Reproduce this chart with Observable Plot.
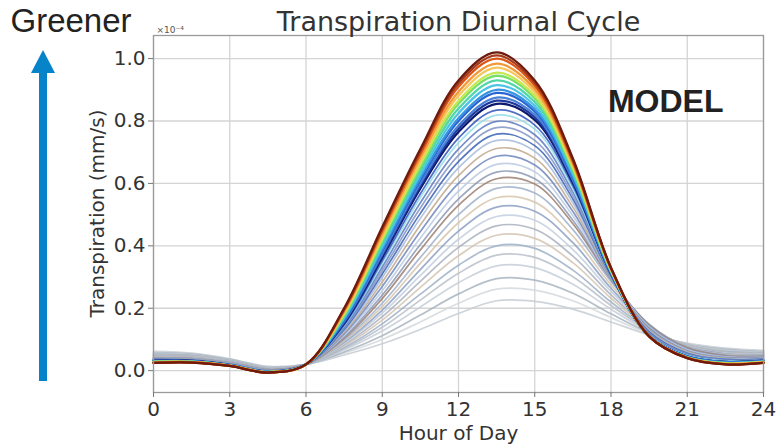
<!DOCTYPE html>
<html>
<head>
<meta charset="utf-8">
<script src="https://cdn.jsdelivr.net/npm/d3@7"></script>
<script src="https://cdn.jsdelivr.net/npm/@observablehq/plot@0.6"></script>
<style>
  html, body { margin: 0; padding: 0; background: #fff; }
  #chart { width: 776px; height: 446px; }
</style>
</head>
<body>
<div id="chart"></div>
<script>
// Sample hours of the composite day
const hours = [0, 1.5, 3, 4.5, 6, 7.5, 9, 10.5, 12, 13.5, 15, 16.5, 18, 19.5, 21, 22.5, 24];
const xTicks = [0, 3, 6, 9, 12, 15, 18, 21, 24];
const yTicks = [0, 0.2, 0.4, 0.6, 0.8, 1.0];

// Mean transpiration (x1e-4 mm/s) per site, greenest site first
const transpiration = [
  [0.025,0.026,0.015,-0.006,0.02,0.200,0.460,0.710,0.930,1.020,0.930,0.680,0.330,0.110,0.040,0.020,0.025],
  [0.025,0.026,0.015,-0.006,0.02,0.197,0.454,0.702,0.920,1.010,0.922,0.675,0.329,0.110,0.040,0.020,0.025],
  [0.026,0.027,0.015,-0.006,0.02,0.194,0.448,0.694,0.910,1.000,0.914,0.670,0.328,0.110,0.041,0.021,0.026],
  [0.026,0.027,0.016,-0.005,0.02,0.190,0.439,0.683,0.894,0.984,0.903,0.663,0.326,0.110,0.041,0.022,0.026],
  [0.027,0.027,0.016,-0.005,0.02,0.186,0.431,0.672,0.881,0.971,0.892,0.657,0.324,0.110,0.041,0.022,0.027],
  [0.028,0.028,0.016,-0.005,0.02,0.181,0.422,0.661,0.865,0.955,0.881,0.650,0.322,0.110,0.042,0.023,0.028],
  [0.028,0.028,0.016,-0.005,0.02,0.178,0.416,0.653,0.855,0.945,0.873,0.645,0.321,0.110,0.042,0.024,0.028],
  [0.029,0.029,0.017,-0.004,0.02,0.174,0.407,0.641,0.840,0.930,0.861,0.638,0.319,0.110,0.043,0.024,0.029],
  [0.029,0.029,0.017,-0.004,0.02,0.169,0.398,0.629,0.825,0.915,0.849,0.630,0.318,0.110,0.043,0.025,0.029],
  [0.030,0.030,0.017,-0.004,0.02,0.165,0.389,0.618,0.809,0.900,0.838,0.623,0.316,0.110,0.044,0.026,0.030],
  [0.030,0.030,0.017,-0.004,0.02,0.162,0.384,0.611,0.800,0.890,0.831,0.619,0.315,0.110,0.044,0.026,0.030],
  [0.031,0.030,0.018,-0.003,0.02,0.158,0.375,0.600,0.785,0.875,0.820,0.612,0.313,0.110,0.044,0.027,0.031],
  [0.031,0.031,0.018,-0.003,0.02,0.155,0.369,0.592,0.775,0.865,0.812,0.607,0.312,0.110,0.045,0.027,0.031],
  [0.032,0.031,0.018,-0.003,0.02,0.152,0.363,0.584,0.765,0.855,0.804,0.602,0.311,0.110,0.045,0.028,0.032],
  [0.033,0.032,0.018,-0.003,0.02,0.147,0.352,0.567,0.745,0.835,0.787,0.592,0.309,0.112,0.047,0.029,0.033],
  [0.033,0.032,0.019,-0.002,0.02,0.144,0.343,0.555,0.730,0.819,0.774,0.583,0.308,0.115,0.049,0.031,0.034],
  [0.034,0.033,0.020,-0.002,0.02,0.140,0.332,0.538,0.710,0.799,0.756,0.572,0.306,0.118,0.051,0.032,0.035],
  [0.035,0.034,0.020,-0.001,0.02,0.136,0.321,0.521,0.690,0.779,0.738,0.561,0.304,0.121,0.053,0.034,0.036],
  [0.036,0.034,0.021,0.000,0.02,0.132,0.310,0.504,0.670,0.758,0.721,0.550,0.303,0.124,0.056,0.036,0.037],
  [0.036,0.035,0.022,0.000,0.02,0.128,0.298,0.488,0.650,0.738,0.703,0.538,0.301,0.128,0.058,0.038,0.039],
  [0.037,0.036,0.022,0.001,0.02,0.123,0.284,0.467,0.625,0.712,0.681,0.524,0.299,0.132,0.061,0.040,0.040],
  [0.038,0.037,0.023,0.001,0.02,0.118,0.270,0.446,0.600,0.687,0.659,0.510,0.297,0.136,0.064,0.042,0.042],
  [0.039,0.038,0.024,0.002,0.02,0.113,0.256,0.425,0.575,0.661,0.637,0.496,0.295,0.140,0.067,0.044,0.043],
  [0.040,0.039,0.025,0.003,0.02,0.108,0.242,0.404,0.550,0.636,0.615,0.482,0.293,0.144,0.070,0.046,0.045],
  [0.041,0.039,0.025,0.003,0.02,0.104,0.231,0.387,0.530,0.615,0.598,0.471,0.292,0.147,0.073,0.048,0.046],
  [0.043,0.040,0.026,0.004,0.02,0.099,0.216,0.363,0.500,0.584,0.569,0.452,0.286,0.149,0.075,0.051,0.048],
  [0.044,0.042,0.027,0.005,0.02,0.095,0.205,0.344,0.474,0.554,0.540,0.431,0.275,0.146,0.076,0.052,0.049],
  [0.046,0.043,0.028,0.006,0.02,0.091,0.194,0.324,0.447,0.524,0.511,0.410,0.264,0.143,0.077,0.054,0.050],
  [0.047,0.044,0.029,0.007,0.02,0.087,0.184,0.305,0.421,0.494,0.482,0.388,0.254,0.141,0.079,0.056,0.052],
  [0.049,0.046,0.030,0.008,0.02,0.083,0.173,0.286,0.395,0.464,0.453,0.367,0.243,0.138,0.080,0.058,0.053],
  [0.051,0.047,0.031,0.008,0.02,0.079,0.162,0.267,0.368,0.434,0.424,0.346,0.232,0.135,0.081,0.059,0.055],
  [0.052,0.048,0.032,0.009,0.02,0.074,0.150,0.245,0.338,0.400,0.392,0.322,0.220,0.132,0.082,0.061,0.056],
  [0.054,0.050,0.033,0.010,0.02,0.070,0.139,0.226,0.312,0.370,0.363,0.301,0.209,0.129,0.083,0.063,0.058],
  [0.056,0.051,0.034,0.011,0.02,0.066,0.127,0.204,0.282,0.336,0.330,0.277,0.197,0.126,0.084,0.065,0.059],
  [0.058,0.053,0.036,0.012,0.02,0.060,0.112,0.178,0.246,0.295,0.290,0.248,0.182,0.122,0.085,0.068,0.061],
  [0.060,0.054,0.037,0.013,0.02,0.056,0.100,0.156,0.216,0.261,0.258,0.224,0.170,0.119,0.087,0.070,0.063],
  [0.062,0.056,0.038,0.014,0.02,0.050,0.086,0.132,0.183,0.224,0.222,0.197,0.156,0.115,0.088,0.072,0.065]
];

// Line colour per site, same order as the rows above
const lineColors = [
  "#6e1a0c", "#a63c1a", "#dc5418", "#f39836", "#f6c65a", "#c6e850", "#78e06a",
  "#50d6a8", "#4cc4e6", "#3894e2", "#2864d2", "#4a80d6", "#1e389c", "#0d196e",
  "#2e54bc", "#90dce8", "#5a7ac2", "#8294c4", "#3a62b6", "#a4badc", "#c0a88c",
  "#6e86be", "#b8cae2", "#8c98b4", "#9a7e70", "#9eb0cc", "#d6c6ac", "#8ca0c4",
  "#c2cede", "#aab2be", "#d2c4b2", "#9eb0c8", "#b8c0ca", "#c6ced8", "#a8b4c0",
  "#d4d8dc", "#c4ccd4"
];

const greenCount = 14; // sites drawn with the heavier stroke

function rowsFor(indices) {
  const out = [];
  for (const i of indices) {
    transpiration[i].forEach((v, j) => out.push({site: i, hour: hours[j], value: v, color: lineColors[i]}));
  }
  return out;
}
const all = d3.range(transpiration.length);
const lowSites = rowsFor(all.filter(i => i >= greenCount).reverse());
const highSites = rowsFor(all.filter(i => i < greenCount).reverse());

const chart = Plot.plot({
  width: 776,
  height: 446,
  marginLeft: 153,
  marginRight: 13,
  marginTop: 35,
  marginBottom: 54,
  style: {fontFamily: "DejaVu Sans", fontSize: "20px", color: "#333", background: "#fff"},
  x: {domain: [0, 24]},
  y: {domain: [-0.07, 1.074]},
  color: {type: "identity"},
  marks: [
    Plot.gridX(xTicks, {stroke: "#d4d4d4", strokeOpacity: 1, strokeWidth: 1.3}),
    Plot.gridY(yTicks, {stroke: "#d4d4d4", strokeOpacity: 1, strokeWidth: 1.3}),
    Plot.line(lowSites, {x: "hour", y: "value", z: "site", stroke: "color", strokeWidth: 1.7, strokeOpacity: 0.85, curve: "catmull-rom"}),
    Plot.line(highSites, {x: "hour", y: "value", z: "site", stroke: "color", strokeWidth: 2.3, curve: "catmull-rom"}),
    Plot.frame({stroke: "#9a9a9a", strokeWidth: 1.3}),
    Plot.axisX(xTicks, {tickSize: 5, tickPadding: 4, label: null, stroke: "#777", fontSize: 20}),
    Plot.axisY(yTicks, {tickSize: 5, tickPadding: 3, label: null, tickFormat: d3.format(".1f"), stroke: "#777", fontSize: 20}),
    Plot.text(["Hour of Day"], {frameAnchor: "bottom", dy: 41, lineAnchor: "middle", fontSize: 20, fill: "#333"}),
    Plot.text(["Transpiration Diurnal Cycle"], {frameAnchor: "top", dy: -5, lineAnchor: "bottom", fontSize: 27, fill: "#333"}),
    Plot.text(["×10⁻⁴"], {frameAnchor: "top-left", dx: 3, dy: -3, lineAnchor: "bottom", textAnchor: "start", fontSize: 9, fill: "#555"}),
    Plot.text(["MODEL"], {frameAnchor: "top-right", dx: -40, dy: 76, lineAnchor: "bottom", textAnchor: "end", fontSize: 32, fontWeight: "bold", fontFamily: "Liberation Sans", fill: "#222"}),
    Plot.text(["Greener"], {frameAnchor: "top-left", dx: -143, dy: -4, lineAnchor: "bottom", textAnchor: "start", fontSize: 33, fontFamily: "Liberation Sans", fill: "#222"})
  ]
});

const svg = d3.select(chart);

// Vertical axis title, centred on the frame
svg.append("text")
  .attr("transform", "translate(97,213.5) rotate(-90)")
  .attr("text-anchor", "middle")
  .attr("dy", "0.35em")
  .attr("font-family", "DejaVu Sans")
  .attr("font-size", 20)
  .attr("fill", "#333")
  .text("Transpiration (mm/s)");

// "Greener" direction arrow in the left margin
svg.append("rect")
  .attr("x", 39).attr("y", 70).attr("width", 8).attr("height", 311)
  .attr("fill", "#0683c9");
svg.append("path")
  .attr("d", "M43,50 L55,73 L31,73 Z")
  .attr("fill", "#0683c9");

document.getElementById("chart").appendChild(chart);
</script>
</body>
</html>
